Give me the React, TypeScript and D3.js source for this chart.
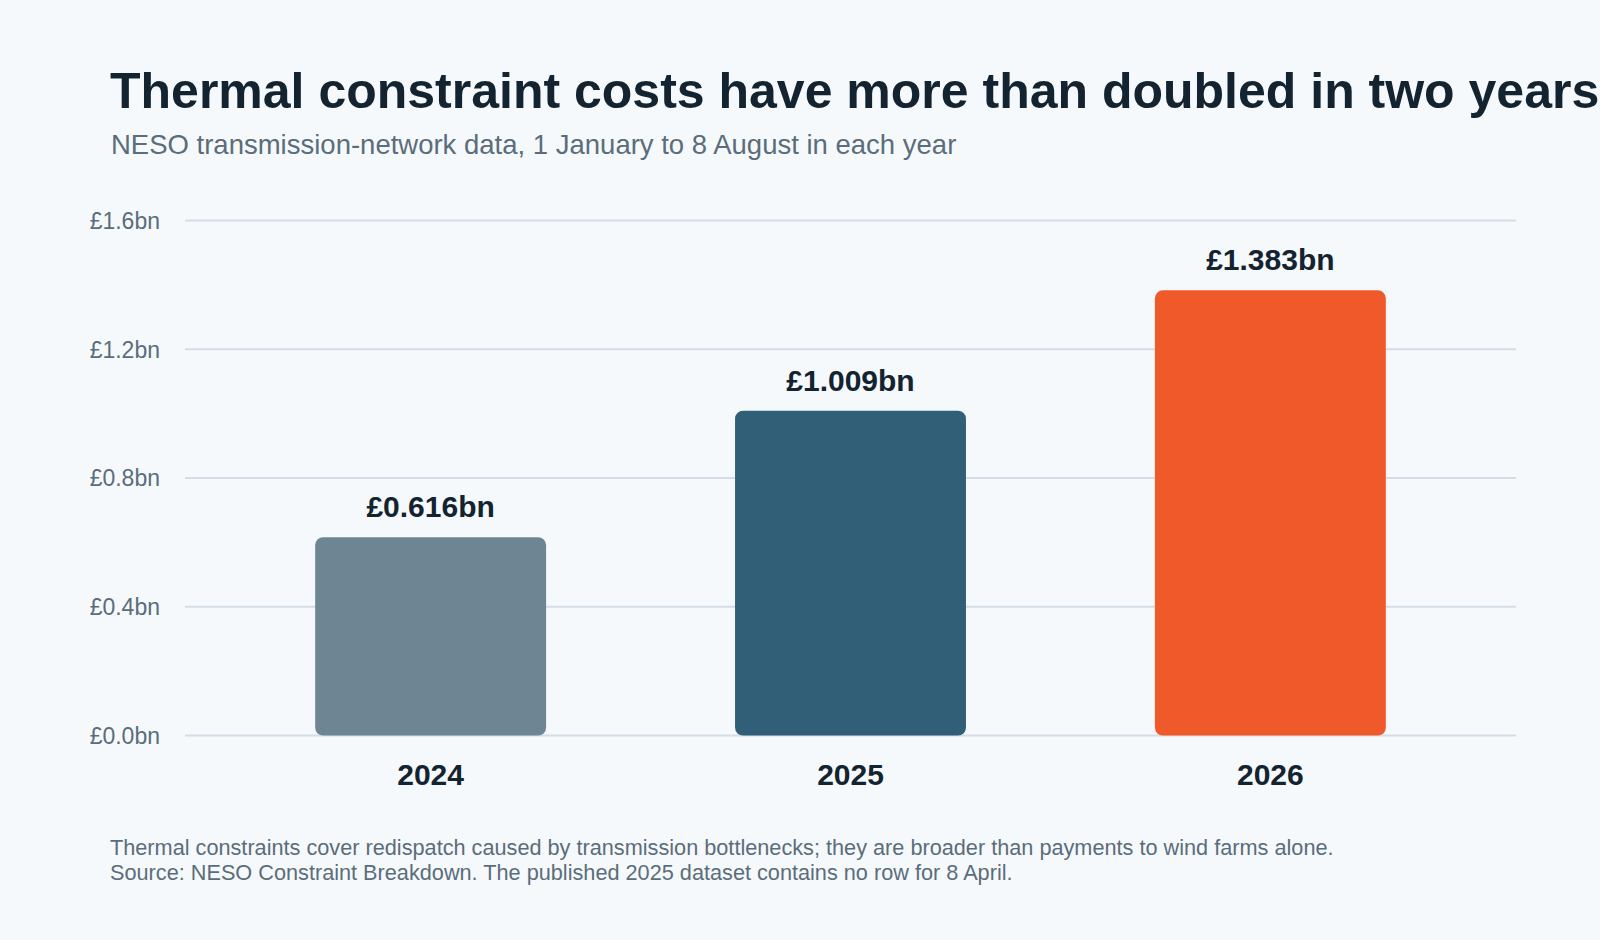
import { useEffect } from "react";
import * as d3 from "d3";

const W = 1600;
const H = 940;
const PLOT = { left: 185, right: 1516, top: 220.5, bottom: 735.5 };

const years = ["2024", "2025", "2026"];
const costs = [0.616, 1.009, 1.383];
const barColors = ["#6e8593", "#325f78", "#f05a2a"];
const yTicks = [0, 0.4, 0.8, 1.2, 1.6];

const TITLE = "Thermal constraint costs have more than doubled in two years";
const SUBTITLE = "NESO transmission-network data, 1 January to 8 August in each year";
const NOTES = [
  "Thermal constraints cover redispatch caused by transmission bottlenecks; they are broader than payments to wind farms alone.",
  "Source: NESO Constraint Breakdown. The published 2025 dataset contains no row for 8 April.",
];

const BG = "#f5f9fc";
const INK = "#13232f";
const MUTED = "#5b6d7a";
const GRID = "#d4dde5";
const FONT = "'Liberation Sans', Arial, sans-serif";

export default function App() {
  useEffect(() => {
    document.body.style.margin = "0";
    document.body.style.background = BG;
  }, []);

  const x = d3
    .scaleBand<string>()
    .domain(years)
    .range([PLOT.left, PLOT.right])
    .paddingInner(0.45)
    .paddingOuter(0.31);

  const y = d3.scaleLinear().domain([0, 1.6]).range([PLOT.bottom, PLOT.top]);

  const fmtTick = (v: number) => `£${v.toFixed(1)}bn`;
  const fmtVal = (v: number) => `£${v.toFixed(3)}bn`;

  return (
    <svg width={W} height={H} style={{ display: "block", background: BG }} fontFamily={FONT}>
      <rect width={W} height={H} fill={BG} />

      <text x={110} y={108} fontSize={50} fontWeight="bold" fill={INK}>
        {TITLE}
      </text>
      <text x={111} y={154} fontSize={27.5} fill={MUTED}>
        {SUBTITLE}
      </text>

      {/* gridlines + y tick labels */}
      {yTicks.map((t) => (
        <g key={t}>
          <line x1={PLOT.left} x2={PLOT.right} y1={y(t)} y2={y(t)} stroke={GRID} strokeWidth={1.8} />
          <text x={160} y={y(t) + 8.3} textAnchor="end" fontSize={23} fill={MUTED}>
            {fmtTick(t)}
          </text>
        </g>
      ))}

      {/* bars */}
      {years.map((yr, i) => {
        const bx = x(yr)!;
        const bw = x.bandwidth();
        const top = y(costs[i]);
        return (
          <g key={yr}>
            <rect
              x={bx}
              y={top}
              width={bw}
              height={y(0) - top}
              rx={8}
              ry={8}
              fill={barColors[i]}
            />
            <text
              x={bx + bw / 2}
              y={top - 20}
              textAnchor="middle"
              fontSize={30}
              fontWeight="bold"
              fill={INK}
            >
              {fmtVal(costs[i])}
            </text>
            <text
              x={bx + bw / 2}
              y={y(0) + 49}
              textAnchor="middle"
              fontSize={30}
              fontWeight="bold"
              fill={INK}
            >
              {yr}
            </text>
          </g>
        );
      })}

      {NOTES.map((n, i) => (
        <text key={i} x={110} y={855 + i * 25} fontSize={21.7} fill={MUTED}>
          {n}
        </text>
      ))}
    </svg>
  );
}
